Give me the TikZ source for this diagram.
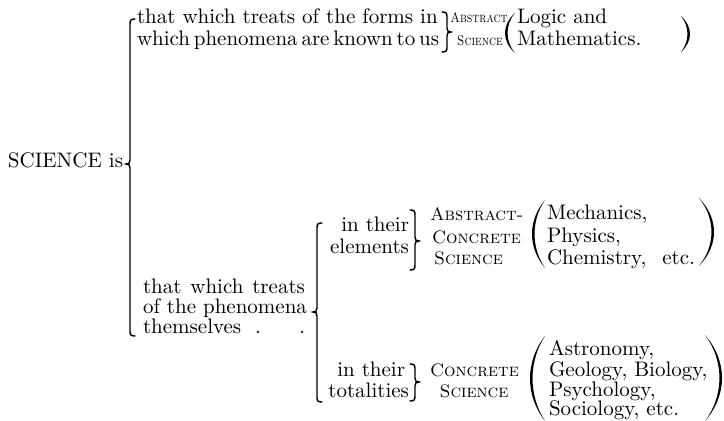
\documentclass[tikz,border=0pt]{standalone}
\usepackage{fontspec}
\newcommand\braceL[4]{% x, top, bottom, cusp
  \draw[br] ({#1+5},#2) .. controls ({#1+1},#2) and (#1,{#2+1}) .. (#1,{#2+5})
    -- (#1,{#4-4}) .. controls (#1,{#4-1}) and ({#1-1},#4) .. ({#1-4},#4)
    .. controls ({#1-1},#4) and (#1,{#4+1}) .. (#1,{#4+4})
    -- (#1,{#3-5}) .. controls (#1,{#3-1}) and ({#1+1},#3) .. ({#1+5},#3);}
\newcommand\braceR[4]{% x, top, bottom, cusp
  \draw[br] ({#1-5},#2) .. controls ({#1-1},#2) and (#1,{#2+1}) .. (#1,{#2+5})
    -- (#1,{#4-4}) .. controls (#1,{#4-1}) and ({#1+1},#4) .. ({#1+4},#4)
    .. controls ({#1+1},#4) and (#1,{#4+1}) .. (#1,{#4+4})
    -- (#1,{#3-5}) .. controls (#1,{#3-1}) and ({#1-1},#3) .. ({#1-5},#3);}
\newcommand\parL[4]{% right x, bulge width, top, bottom
  \fill (#1,#3) .. controls ({#1-1.333*#2},{#3+0.3*(#4-#3)}) and ({#1-1.333*#2},{#4-0.3*(#4-#3)}) .. (#1,#4)
    .. controls ({#1-1.333*#2+3.4},{#4-0.3*(#4-#3)}) and ({#1-1.333*#2+3.4},{#3+0.3*(#4-#3)}) .. cycle;}
\newcommand\parR[4]{% left x, bulge width, top, bottom
  \fill (#1,#3) .. controls ({#1+1.333*#2},{#3+0.3*(#4-#3)}) and ({#1+1.333*#2},{#4-0.3*(#4-#3)}) .. (#1,#4)
    .. controls ({#1+1.333*#2-3.4},{#4-0.3*(#4-#3)}) and ({#1+1.333*#2-3.4},{#3+0.3*(#4-#3)}) .. cycle;}
\begin{document}
\begin{tikzpicture}[x=0.5pt,y=-0.5pt,
  txt/.style={inner sep=0pt,outer sep=0pt,font=\fontsize{10.5}{12}\selectfont\addfontfeatures{FakeBold=0.6}},
  scb/.style={inner sep=0pt,outer sep=0pt,font=\fontsize{9}{10}\selectfont\scshape\addfontfeatures{FakeBold=0.6}},
  sct/.style={inner sep=0pt,outer sep=0pt,xscale=0.85,font=\fontsize{7}{8}\selectfont\scshape\addfontfeatures{FakeBold=0.6}},
  br/.style={line width=0.7pt,line cap=round}]
\useasboundingbox (0,0) rectangle (724,421);

% root
\node[txt,anchor=base west] (sci) at (8,168) {SCIENCE is};
\braceL{130}{19}{336}{164}

% top branch
\node[txt,anchor=base west] (t1) at (137,24) {that which treats of the forms in};
\node[txt,anchor=base west] (t2) at (137,46) {\spaceskip=1.9pt which phenomena are known to us};
\braceR{447}{12}{52}{32}
\node[sct,anchor=base] (abs) at (479,23) {Abstract};
\node[sct,anchor=base] (absc) at (480,46) {Science};
\parL{515}{10}{13}{53}
\node[txt,anchor=base west] (lg1) at (517,24) {Logic and};
\node[txt,anchor=base west] (lg2) at (517,46) {Mathematics.};
\parR{681}{9}{16}{52}

% bottom branch
\node[txt,anchor=base west] (p1) at (143,294) {\makebox[81pt][s]{that which treats}};
\node[txt,anchor=base west] (p2) at (143,314) {of the phenomena};
\node[txt,anchor=base west] (p3) at (143,334) {\makebox[81pt][l]{themselves\hspace{7pt}.\hfill.}};
\braceL{317}{223}{402}{312}

% elements
\node[txt,anchor=base east] (e1) at (409,232) {in their};
\node[txt,anchor=base east] (e2) at (409,254) {elements};
\braceR{415}{210}{270}{241}
\node[scb,anchor=base west] (ac1) at (430,221) {Abstract-};
\node[scb,anchor=base west] (ac2) at (432,244) {Concrete};
\node[scb,anchor=base west] (ac3) at (434,265) {Science};
\parL{545}{13}{200}{268}
\node[txt,anchor=base west] (m1) at (547,220) {Mechanics,};
\node[txt,anchor=base west] (m2) at (547,243) {Physics,};
\node[txt,anchor=base west] (m3) at (547,265) {\makebox[74pt][s]{Chemistry,\ \ etc.}};
\parR{699}{15}{198}{266}

% totalities
\node[txt,anchor=base east] (f1) at (405,377) {in their};
\node[txt,anchor=base east] (f2) at (409,398) {totalities};
\braceR{415}{364}{401}{382}
\node[scb,anchor=base west] (c1) at (430,377) {Concrete};
\node[scb,anchor=base] (c2) at (474,398) {Science};
\parL{545}{15}{336}{421}
\node[txt,anchor=base west] (s1) at (549,356) {Astronomy,};
\node[txt,anchor=base west] (s2) at (549,377) {Geology, Biology,};
\node[txt,anchor=base west] (s3) at (549,397) {Psychology,};
\node[txt,anchor=base west] (s4) at (549,416) {Sociology, etc.};
\parR{705}{17}{335}{421}
\end{tikzpicture}
\end{document}
